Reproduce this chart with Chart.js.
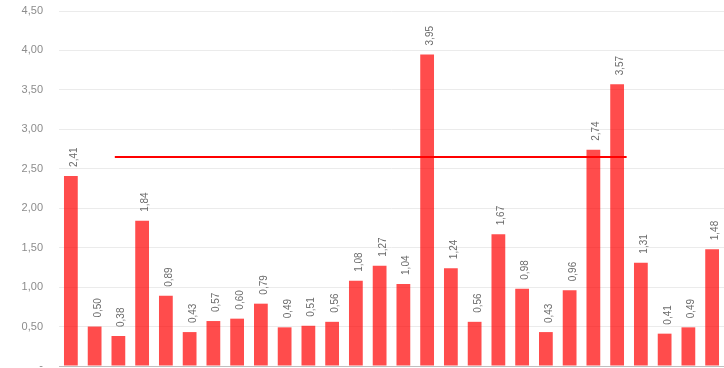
<!DOCTYPE html>
<html>
<head>
<meta charset="utf-8">
<script src="https://cdn.jsdelivr.net/npm/chart.js@4.4.1/dist/chart.umd.min.js"></script>
<style>
  html, body { margin: 0; padding: 0; background: #ffffff; overflow: hidden; }
  #wrap { position: relative; width: 724px; height: 368px; }
</style>
</head>
<body>
<div id="wrap"><canvas id="chart" width="724" height="368"></canvas></div>
<script>
// Period labels (not drawn on the axis) and the measured values per period
const categories = ['1','2','3','4','5','6','7','8','9','10','11','12','13','14',
                    '15','16','17','18','19','20','21','22','23','24','25','26','27','28'];
const values = [2.41, 0.50, 0.38, 1.84, 0.89, 0.43, 0.57, 0.60, 0.79, 0.49,
                0.51, 0.56, 1.08, 1.27, 1.04, 3.95, 1.24, 0.56, 1.67, 0.98,
                0.43, 0.96, 2.74, 3.57, 1.31, 0.41, 0.49, 1.48];
// Target level and the span (in category units) it is drawn across
const targetValue = 2.65;
const targetSpan = [1.85, 23.4];
// Value axis ticks
const yTicks = [0, 0.5, 1, 1.5, 2, 2.5, 3, 3.5, 4, 4.5];

const fmt = v => v.toFixed(2).replace('.', ',');

// Vertical value labels above each bar
const barLabels = {
  id: 'barLabels',
  afterDatasetsDraw(chart) {
    const meta = chart.getDatasetMeta(0);
    const ctx = chart.ctx;
    ctx.save();
    ctx.font = '10px "Liberation Sans", Arial, sans-serif';
    ctx.fillStyle = '#6b6b6b';
    ctx.textAlign = 'left';
    ctx.textBaseline = 'alphabetic';
    meta.data.forEach((bar, i) => {
      ctx.save();
      ctx.translate(bar.x + 6, bar.y - 9);
      ctx.rotate(-Math.PI / 2);
      ctx.fillText(fmt(values[i]), 0, 0);
      ctx.restore();
    });
    ctx.restore();
  }
};

new Chart(document.getElementById('chart'), {
  type: 'bar',
  data: {
    labels: categories,
    datasets: [
      {
        type: 'bar',
        data: values,
        backgroundColor: 'rgba(255, 0, 0, 0.7)',
        borderWidth: 0,
        grouped: false,
        barPercentage: 0.58,
        categoryPercentage: 1.0,
        order: 1
      },
      {
        type: 'line',
        xAxisID: 'x2',
        data: [{ x: targetSpan[0], y: targetValue }, { x: targetSpan[1], y: targetValue }],
        borderColor: '#ff0000',
        borderWidth: 2,
        pointRadius: 0,
        fill: false,
        order: 0
      }
    ]
  },
  options: {
    responsive: false,
    animation: false,
    events: [],
    layout: { padding: { top: 11, bottom: 2, left: 0, right: 0 } },
    plugins: { legend: { display: false }, tooltip: { enabled: false } },
    scales: {
      x: {
        type: 'category',
        offset: true,
        grid: { display: false, drawTicks: false },
        border: { display: true, color: '#bfbfbf', width: 1 },
        ticks: { display: false }
      },
      x2: {
        type: 'linear',
        display: false,
        offset: false,
        min: -0.5,
        max: categories.length - 0.5
      },
      y: {
        min: 0,
        max: 4.5,
        afterBuildTicks(scale) {
          scale.ticks = yTicks.map(v => ({ value: v }));
        },
        afterFit(scale) {
          scale.width = 59;
          scale.paddingTop = 0;
          scale.paddingBottom = 0;
        },
        grid: { color: '#ebebeb', lineWidth: 1, drawTicks: false },
        border: { display: false },
        ticks: {
          padding: 16,
          color: '#8c8c8c',
          font: { family: '"Liberation Sans", Arial, sans-serif', size: 11 },
          callback: v => (v === 0 ? '-' : fmt(v))
        }
      }
    }
  },
  plugins: [barLabels]
});
</script>
</body>
</html>
